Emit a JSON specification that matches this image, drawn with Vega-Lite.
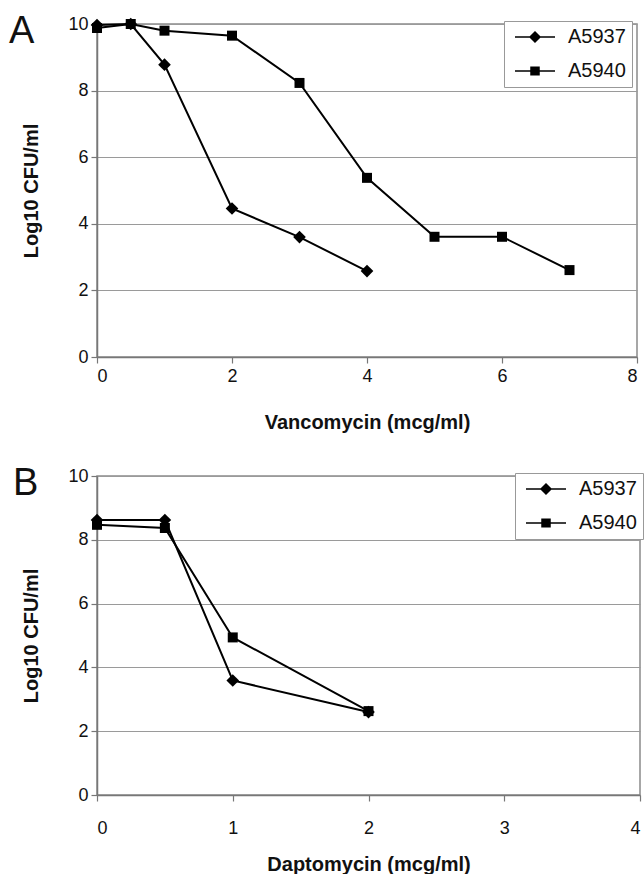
{
  "$schema": "https://vega.github.io/schema/vega-lite/v6.json",
  "background": "white",
  "padding": {"left": 8, "top": 12, "right": 2, "bottom": 0},
  "spacing": 31,
  "config": {
    "font": "Liberation Sans",
    "view": {"stroke": "#8a8a8a", "strokeWidth": 1.5},
    "axis": {
      "labelFont": "Liberation Sans", "labelFontSize": 18, "labelColor": "#111",
      "titleFont": "Liberation Sans", "titleFontSize": 20, "titleFontWeight": "bold", "titleColor": "#111",
      "domainColor": "#777", "domainWidth": 1.5, "tickColor": "#777", "tickSize": 6, "tickWidth": 1.2,
      "gridColor": "#9a9a9a", "gridWidth": 1.2
    },
    "legend": {
      "labelFont": "Liberation Sans", "labelFontSize": 20, "labelColor": "#111",
      "strokeColor": "#999", "fillColor": "white", "padding": 6,
      "rowPadding": 14, "symbolSize": 100, "labelOffset": 38
    },
    "title": {"font": "Liberation Sans", "fontSize": 38, "fontWeight": "normal", "color": "#111"}
  },
  "vconcat": [
    {
      "width": 540, "height": 333,
      "title": {"text": "A", "anchor": "start", "frame": "group", "baseline": "top", "dx": -88, "dy": 40},
      "data": {"values": [
        {"conc": 0, "cfu": 9.97, "strain": "A5937"},
        {"conc": 0.5, "cfu": 10.0, "strain": "A5937"},
        {"conc": 1, "cfu": 8.78, "strain": "A5937"},
        {"conc": 2, "cfu": 4.46, "strain": "A5937"},
        {"conc": 3, "cfu": 3.6, "strain": "A5937"},
        {"conc": 4, "cfu": 2.58, "strain": "A5937"},
        {"conc": 0, "cfu": 9.88, "strain": "A5940"},
        {"conc": 0.5, "cfu": 10.0, "strain": "A5940"},
        {"conc": 1, "cfu": 9.8, "strain": "A5940"},
        {"conc": 2, "cfu": 9.65, "strain": "A5940"},
        {"conc": 3, "cfu": 8.23, "strain": "A5940"},
        {"conc": 4, "cfu": 5.38, "strain": "A5940"},
        {"conc": 5, "cfu": 3.61, "strain": "A5940"},
        {"conc": 6, "cfu": 3.61, "strain": "A5940"},
        {"conc": 7, "cfu": 2.61, "strain": "A5940"}
      ]},
      "encoding": {
        "x": {"field": "conc", "type": "quantitative", "scale": {"domain": [0, 8], "nice": false},
              "axis": {"title": "Vancomycin (mcg/ml)", "values": [0, 2, 4, 6, 8], "grid": false, "labelPadding": 4, "titlePadding": 27}},
        "y": {"field": "cfu", "type": "quantitative", "scale": {"domain": [0, 10], "nice": false},
              "axis": {"title": "Log10 CFU/ml", "values": [0, 2, 4, 6, 8, 10], "labelPadding": 3, "titlePadding": 26}}
      },
      "layer": [
        {"mark": {"type": "line", "color": "black", "strokeWidth": 2}, "encoding": {"detail": {"field": "strain"}}},
        {"mark": {"type": "point", "filled": true, "color": "black", "opacity": 1},
         "encoding": {
           "shape": {"field": "strain", "type": "nominal", "scale": {"domain": ["A5937", "A5940"], "range": ["diamond", "square"]}, "legend": null},
           "size": {"field": "strain", "type": "nominal", "scale": {"domain": ["A5937", "A5940"], "range": [160, 100]}, "legend": null}}},
        {"mark": {"type": "point", "filled": false, "color": "black", "strokeWidth": 2, "opacity": 0},
         "encoding": {"shape": {"field": "strain", "type": "nominal",
           "scale": {"domain": ["A5937", "A5940"], "range": ["M-1,0L7,0M3,-1L4,0L3,1L2,0ZM3,-0.65L3.65,0L3,0.65L2.35,0ZM3,-0.3L3.3,0L3,0.3L2.7,0ZM3,-1L3,1", "M-1,0L7,0M2.2,-0.75L3.8,-0.75L3.8,0.75L2.2,0.75ZM2.2,-0.5L3.8,-0.5M2.2,-0.25L3.8,-0.25M2.2,0.25L3.8,0.25M2.2,0.5L3.8,0.5M2.6,-0.75L2.6,0.75M3,-0.75L3,0.75M3.4,-0.75L3.4,0.75"]},
           "legend": {"title": null, "orient": "none", "legendX": 407, "legendY": -3,
             "encode": {"symbols": {"update": {"opacity": {"value": 1}, "strokeOpacity": {"value": 1}}}}}}}}
      ],
      "resolve": {"scale": {"shape": "independent", "size": "independent"}}
    },
    {
      "width": 543, "height": 319,
      "title": {"text": "B", "anchor": "start", "frame": "group", "baseline": "top", "dx": -84, "dy": 40},
      "data": {"values": [
        {"conc": 0, "cfu": 8.62, "strain": "A5937"},
        {"conc": 0.5, "cfu": 8.62, "strain": "A5937"},
        {"conc": 1, "cfu": 3.59, "strain": "A5937"},
        {"conc": 2, "cfu": 2.6, "strain": "A5937"},
        {"conc": 0, "cfu": 8.47, "strain": "A5940"},
        {"conc": 0.5, "cfu": 8.37, "strain": "A5940"},
        {"conc": 1, "cfu": 4.94, "strain": "A5940"},
        {"conc": 2, "cfu": 2.63, "strain": "A5940"}
      ]},
      "encoding": {
        "x": {"field": "conc", "type": "quantitative", "scale": {"domain": [0, 4], "nice": false},
              "axis": {"title": "Daptomycin (mcg/ml)", "values": [0, 1, 2, 3, 4], "grid": false, "labelPadding": 18, "titlePadding": 17}},
        "y": {"field": "cfu", "type": "quantitative", "scale": {"domain": [0, 10], "nice": false},
              "axis": {"title": "Log10 CFU/ml", "values": [0, 2, 4, 6, 8, 10], "labelPadding": 3, "titlePadding": 26}}
      },
      "layer": [
        {"mark": {"type": "line", "color": "black", "strokeWidth": 2}, "encoding": {"detail": {"field": "strain"}}},
        {"mark": {"type": "point", "filled": true, "color": "black", "opacity": 1},
         "encoding": {
           "shape": {"field": "strain", "type": "nominal", "scale": {"domain": ["A5937", "A5940"], "range": ["diamond", "square"]}, "legend": null},
           "size": {"field": "strain", "type": "nominal", "scale": {"domain": ["A5937", "A5940"], "range": [160, 100]}, "legend": null}}},
        {"mark": {"type": "point", "filled": false, "color": "black", "strokeWidth": 2, "opacity": 0},
         "encoding": {"shape": {"field": "strain", "type": "nominal",
           "scale": {"domain": ["A5937", "A5940"], "range": ["M-1,0L7,0M3,-1L4,0L3,1L2,0ZM3,-0.65L3.65,0L3,0.65L2.35,0ZM3,-0.3L3.3,0L3,0.3L2.7,0ZM3,-1L3,1", "M-1,0L7,0M2.2,-0.75L3.8,-0.75L3.8,0.75L2.2,0.75ZM2.2,-0.5L3.8,-0.5M2.2,-0.25L3.8,-0.25M2.2,0.25L3.8,0.25M2.2,0.5L3.8,0.5M2.6,-0.75L2.6,0.75M3,-0.75L3,0.75M3.4,-0.75L3.4,0.75"]},
           "legend": {"title": null, "orient": "none", "legendX": 418, "legendY": -3,
             "encode": {"symbols": {"update": {"opacity": {"value": 1}, "strokeOpacity": {"value": 1}}}}}}}}
      ],
      "resolve": {"scale": {"shape": "independent", "size": "independent"}}
    }
  ]
}
